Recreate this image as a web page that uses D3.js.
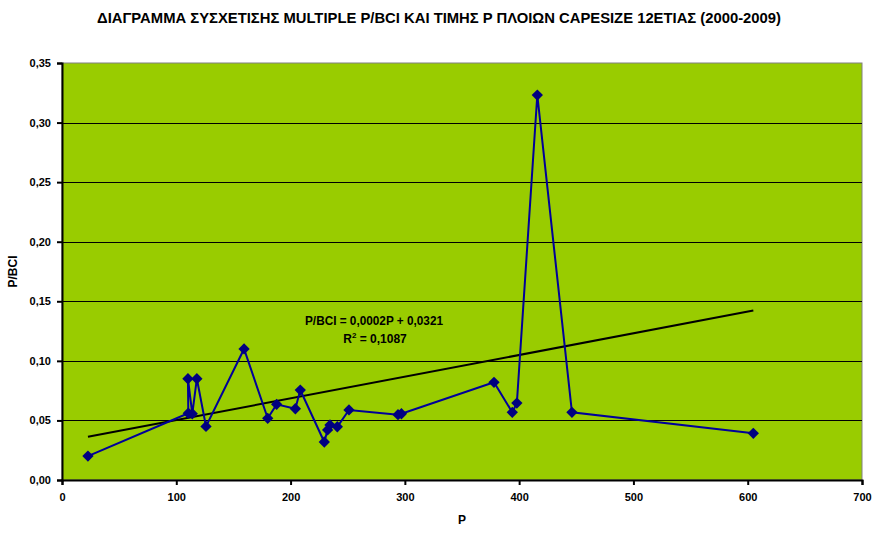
<!DOCTYPE html>
<html><head><meta charset="utf-8">
<script src="https://cdn.jsdelivr.net/npm/d3@7"></script>
<style>body{margin:0;background:#fff;} svg{display:block;font-family:"Liberation Sans",Arial,sans-serif;}</style>
</head><body>
<svg id="c" width="884" height="534"></svg>
<script>
const pValues   = [22.7, 110.5, 110.2, 114, 118, 126, 159.3, 180, 187.8, 204.2, 208.5, 229.5, 232.4, 234.5, 240.9, 251.1, 294, 297, 378, 394, 398, 415.9, 446.2, 604.9];
const ratioVals = [0.0201, 0.0560, 0.0850, 0.0556, 0.0850, 0.0450, 0.1100, 0.0518, 0.0635, 0.0598, 0.0755, 0.0319, 0.0420, 0.0462, 0.0447, 0.0588, 0.0548, 0.0556, 0.0820, 0.0568, 0.0646, 0.3231, 0.0568, 0.0392];
const xTicks = [0, 100, 200, 300, 400, 500, 600, 700];
const yTicks = [0, 0.05, 0.10, 0.15, 0.20, 0.25, 0.30, 0.35];
const trend = {slope: 0.000182, intercept: 0.0321};
const titleText = "ΔΙΑΓΡΑΜΜΑ ΣΥΣΧΕΤΙΣΗΣ MULTIPLE P/BCI ΚΑΙ ΤΙΜΗΣ P ΠΛΟΙΩΝ CAPESIZE 12ΕΤΙΑΣ (2000-2009)";

const svg = d3.select("#c");
const L = 62, R = 862, T = 63, B = 480;
const x = d3.scaleLinear().domain([0, 700]).range([L, R]);
const y = d3.scaleLinear().domain([0, 0.35]).range([B, T]);
const fmt = d => d3.format(".2f")(d).replace(".", ",");

svg.append("rect").attr("x", L).attr("y", T).attr("width", R - L).attr("height", B - T)
  .attr("fill", "#99cc00").attr("stroke", "#808080").attr("stroke-width", 1);

// gridlines
svg.append("g").selectAll("line").data(yTicks.filter(d => d > 0 && d < 0.35)).join("line")
  .attr("x1", L).attr("x2", R).attr("y1", d => Math.round(y(d)) + 0.5).attr("y2", d => Math.round(y(d)) + 0.5)
  .attr("stroke", "#000").attr("stroke-width", 1);

// axes
const yAxis = d3.axisLeft(y).tickValues(yTicks).tickFormat(fmt).tickSize(5).tickPadding(6);
const gy = svg.append("g").attr("transform", `translate(${L},0)`).call(yAxis);
const xAxis = d3.axisBottom(x).tickValues(xTicks).tickFormat(d3.format("d")).tickSize(5).tickPadding(8);
const gx = svg.append("g").attr("transform", `translate(0,${B})`).call(xAxis);
[gy, gx].forEach(g => {
  g.select(".domain").attr("stroke", "#000").attr("stroke-width", 2);
  g.selectAll(".tick line").attr("stroke", "#000").attr("stroke-width", 2);
  g.selectAll(".tick text").attr("fill", "#000").attr("font-size", 11).attr("font-weight", "bold")
    .attr("font-family", "'Liberation Sans', Arial, sans-serif");
});

// trend line
const tx = d3.extent(pValues);
svg.append("line")
  .attr("x1", x(tx[0])).attr("y1", y(trend.intercept + trend.slope * tx[0]))
  .attr("x2", x(tx[1])).attr("y2", y(trend.intercept + trend.slope * tx[1]))
  .attr("stroke", "#000").attr("stroke-width", 2);

// series line
const data = pValues.map((p, i) => ({p, v: ratioVals[i]}));
svg.append("path").datum(data)
  .attr("d", d3.line().x(d => x(d.p)).y(d => y(d.v)))
  .attr("fill", "none").attr("stroke", "#000099").attr("stroke-width", 2);
svg.append("g").selectAll("path").data(data).join("path")
  .attr("d", d3.symbol(d3.symbolSquare, 64))
  .attr("transform", d => `translate(${x(d.p)},${y(d.v)}) rotate(45)`)
  .attr("fill", "#000080");

// equation
svg.append("text").attr("x", 374).attr("y", 325).attr("text-anchor", "middle")
  .attr("font-size", 12).attr("font-weight", "bold")
  .attr("textLength", 138).attr("lengthAdjust", "spacingAndGlyphs")
  .text("P/BCI = 0,0002P + 0,0321");
const r2 = svg.append("text").attr("x", 375).attr("y", 343).attr("text-anchor", "middle")
  .attr("font-size", 12).attr("font-weight", "bold");
r2.append("tspan").text("R");
r2.append("tspan").attr("font-size", 8).attr("dy", -5).text("2");
r2.append("tspan").attr("dy", 5).text(" = 0,1087");

// titles
svg.append("text").attr("x", 439).attr("y", 23).attr("text-anchor", "middle")
  .attr("font-size", 14).attr("font-weight", "bold")
  .attr("textLength", 684).attr("lengthAdjust", "spacingAndGlyphs")
  .text(titleText);
svg.append("text").attr("x", x(350)).attr("y", 524).attr("text-anchor", "middle")
  .attr("font-size", 12).attr("font-weight", "bold").text("P");
svg.append("text").attr("transform", `translate(17,${(T + B) / 2}) rotate(-90)`).attr("text-anchor", "middle")
  .attr("font-size", 12).attr("font-weight", "bold").text("P/BCI");
</script>
</body></html>
